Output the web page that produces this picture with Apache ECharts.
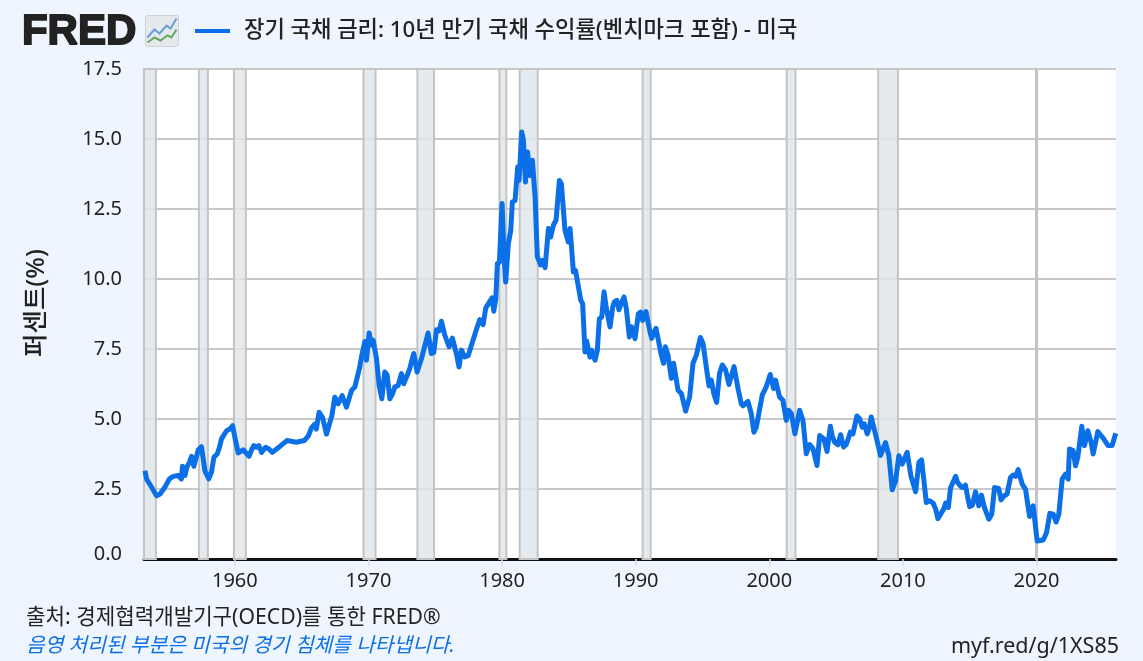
<!DOCTYPE html>
<html><head><meta charset="utf-8">
<style>html,body{margin:0;padding:0;background:#eef5fe}#c{width:1143px;height:661px}</style>
<script src="https://cdn.jsdelivr.net/npm/echarts@6/dist/echarts.min.js"></script>
</head><body><div id="c"></div>
<script>
const seriesName = '장기 국채 금리: 10년 만기 국채 수익률(벤치마크 포함) - 미국';
const xTicks = [1960, 1970, 1980, 1990, 2000, 2010, 2020];
const recessionStart = [1953.2, 1957.31, 1959.93, 1969.63, 1973.66, 1979.8, 1981.32, 1990.52, 2001.3, 2008.15, 2019.96];
const recessionEnd = [1954.09, 1957.98, 1960.82, 1970.53, 1974.91, 1980.32, 1982.67, 1991.12, 2001.96, 2009.63, 2020.04];
const years = [
1953.27,1953.4,1953.5,1953.77,1954.14,1954.4,1954.76,1955.39,1955.76,1956.0,1956.08,1956.26,1956.43,1956.76,1956.93,1957.26,1957.5,1957.76,1958.05,1958.25,1958.43,1958.68,1959.0,1959.38,1959.63,1959.83,1960.0,1960.25,1960.62,1961.07,1961.42,1961.62,1961.8,1962.0,1962.3,1962.8,1963.37,1963.9,1964.6,1965.2,1965.5,1965.75,1966.0,1966.1,1966.3,1966.56,1966.86,1967.0,1967.26,1967.48,1967.73,1968.03,1968.35,1968.73,1968.98,1969.35,1969.48,1969.73,1969.85,1970.05,1970.22,1970.35,1970.6,1970.8,1971.0,1971.22,1971.4,1971.6,1971.97,1972.22,1972.47,1972.64,1973.09,1973.39,1973.64,1973.97,1974.46,1974.71,1974.89,1975.09,1975.29,1975.46,1975.71,1976.03,1976.28,1976.58,1976.78,1976.96,1977.2,1977.46,1977.95,1978.33,1978.58,1978.78,1979.25,1979.38,1979.53,1979.65,1979.8,1980.0,1980.15,1980.27,1980.47,1980.65,1980.77,1980.97,1981.17,1981.27,1981.47,1981.6,1981.75,1981.9,1982.1,1982.27,1982.47,1982.64,1982.89,1983.04,1983.22,1983.47,1983.64,1983.84,1984.04,1984.29,1984.44,1984.71,1984.96,1985.09,1985.34,1985.64,1985.89,1986.03,1986.21,1986.33,1986.58,1986.71,1986.96,1987.13,1987.28,1987.46,1987.63,1987.83,1988.08,1988.28,1988.58,1988.75,1989.13,1989.53,1989.7,1989.95,1990.2,1990.37,1990.52,1990.77,1991.07,1991.2,1991.52,1991.92,1992.09,1992.22,1992.42,1992.67,1992.84,1993.17,1993.42,1993.74,1994.04,1994.29,1994.54,1994.84,1995.04,1995.49,1995.66,1996.06,1996.28,1996.48,1996.73,1996.98,1997.36,1997.66,1998.03,1998.4,1998.65,1998.85,1999.03,1999.47,1999.77,2000.07,2000.32,2000.47,2000.77,2001.02,2001.27,2001.45,2001.65,2001.92,2002.27,2002.52,2002.77,2003.02,2003.27,2003.57,2003.77,2004.09,2004.32,2004.57,2004.89,2005.14,2005.34,2005.56,2005.76,2006.06,2006.26,2006.56,2006.76,2006.96,2007.33,2007.63,2007.88,2008.33,2008.7,2008.95,2009.2,2009.45,2009.7,2009.95,2010.32,2010.95,2011.2,2011.4,2011.75,2012.27,2012.62,2013.07,2013.4,2013.57,2013.95,2014.3,2014.68,2015.0,2015.43,2015.68,2015.88,2016.43,2016.86,2017.17,2017.35,2017.8,2018.05,2018.43,2018.63,2018.93,2019.18,2019.48,2019.75,2019.88,2020.05,2020.5,2020.75,2021.0,2021.25,2021.47,2021.67,2021.92,2022.17,2022.37,2022.47,2022.74,2022.92,2023.09,2023.39,2023.59,2023.84,2024.09,2024.24,2024.59,2025.0,2025.36,2025.66,2025.93];
const rates = [
3.15,2.85,2.8,2.56,2.26,2.32,2.56,2.95,2.98,2.86,3.31,2.98,3.31,3.67,3.31,3.9,4.01,3.15,2.86,3.1,3.63,3.75,4.29,4.58,4.64,4.76,4.35,3.79,3.9,3.67,4.05,3.99,4.05,3.81,3.99,3.81,4.02,4.23,4.17,4.23,4.4,4.7,4.82,4.64,5.24,5.06,4.46,4.52,5.12,5.78,5.54,5.84,5.42,6.02,6.14,6.86,7.22,7.77,7.1,8.07,7.64,7.82,7.16,6.2,5.72,6.68,6.56,5.72,6.14,6.2,6.62,6.26,6.8,7.34,6.68,7.16,8.07,7.34,7.38,8.19,8.15,8.49,8.0,7.58,7.89,7.34,6.86,7.46,7.22,7.26,8.0,8.55,8.37,8.97,9.33,8.85,9.3,10.55,10.6,12.7,10.79,9.89,11.26,11.74,12.75,12.8,14.0,13.52,15.25,14.95,13.46,14.54,13.7,14.24,12.93,10.8,10.5,10.67,10.4,11.8,11.5,11.92,12.1,13.52,13.4,11.74,11.32,11.8,10.25,10.37,9.24,9.12,7.39,7.79,7.21,7.45,7.1,7.45,8.58,8.64,9.54,8.88,8.29,9.0,9.24,8.9,9.36,7.93,8.29,7.87,8.76,8.82,8.52,8.84,8.12,7.88,8.24,7.28,6.99,7.58,7.28,6.45,6.99,6.03,5.91,5.28,5.79,6.99,7.28,7.91,7.7,6.18,6.39,5.59,6.63,6.93,6.75,6.23,6.87,6.09,5.47,5.63,5.19,4.53,4.71,5.85,6.15,6.59,6.09,6.39,5.79,5.67,4.95,5.31,5.19,4.47,5.31,4.95,3.76,4.09,3.94,3.34,4.41,4.29,3.84,4.74,4.17,4.08,4.44,4.0,4.09,4.53,4.47,5.11,5.01,4.71,4.47,5.07,4.59,3.7,4.16,3.69,2.47,2.79,3.69,3.39,3.81,2.4,3.45,3.54,2.02,1.99,1.44,1.8,1.84,2.55,2.95,2.61,2.64,1.87,2.4,1.9,2.28,1.42,2.55,2.52,2.11,2.32,2.91,2.95,3.19,2.67,2.49,1.52,1.9,1.9,0.64,0.68,0.94,1.63,1.6,1.32,1.6,2.85,3.03,2.85,3.93,3.87,3.33,3.63,4.74,4.05,4.58,4.16,3.75,4.55,4.31,4.05,4.05,4.49];
const extraYears = [1955.1,1956.6,1958.85,1961.25,1962.55,1971.8,1972.9,1973.25,1977.75,1978.15,1985.5,1988.4,1988.9,1989.3,1995.3,1995.85,1997.9,2004.7,2005.95,2007.1,2007.5,2010.6,2011.55,2012.0,2012.45,2012.82,2013.2,2014.1,2014.45,2014.85,2015.2,2016.1,2016.65,2017.0,2017.55,2018.25];
const extraRates = [2.86,3.45,3.99,3.9,3.93,5.9,6.56,7.1,7.7,8.3,10.3,9.18,9.12,8.94,6.8,5.9,5.55,4.41,4.35,4.83,4.71,2.97,2.91,2.08,1.78,1.6,2.0,2.73,2.55,2.2,1.92,1.84,1.6,2.58,2.25,3.0];

const points = years.map((y,i)=>[y,rates[i]]).concat(extraYears.map((y,i)=>[y,extraRates[i]])).sort((a,b)=>a[0]-b[0]);
const font = '"Noto Sans","Noto Sans CJK KR",sans-serif';
const chart = echarts.init(document.getElementById('c'), null, {renderer:'canvas'});
chart.setOption({
  animation:false,
  backgroundColor:'#eef5fe',
  grid:{left:144,right:27,top:69,bottom:102,show:true,backgroundColor:'#fff',borderWidth:0},
  legend:{show:true,left:190,top:15,icon:'rect',itemWidth:35,itemHeight:4,itemGap:13,
    textStyle:{fontFamily:font,fontSize:22.2,color:'#222',fontWeight:500,padding:[0,0,0,9]},data:[seriesName]},
  xAxis:{type:'value',min:1953.2,max:2025.95,
    splitLine:{show:false},
    axisLine:{show:true,onZero:false,lineStyle:{color:'#111',width:3}},
    axisTick:{show:true,customValues:xTicks,length:7,lineStyle:{color:'#cfe0f7',width:1.5}},
    axisLabel:{customValues:xTicks,formatter:v=>String(v),fontFamily:font,fontSize:20,color:'#222',margin:12}},
  yAxis:{type:'value',min:0,max:17.5,interval:2.5,
    name:'퍼센트(%)',nameLocation:'middle',nameGap:95,nameRotate:90,
    nameTextStyle:{fontFamily:font,fontSize:25.5,color:'#222',fontWeight:500,padding:[0,0,0,22]},
    axisLine:{show:false},axisTick:{show:false},
    splitLine:{show:true,lineStyle:{color:'#c9c9c9',width:2}},
    axisLabel:{formatter:v=>v===0?'{z|0.0}':v.toFixed(1),fontFamily:font,fontSize:20,color:'#222',margin:22,
      rich:{z:{fontFamily:font,fontSize:20,color:'#222',padding:[0,0,10,0]}}}},
  series:[{
    name:seriesName,type:'line',showSymbol:false,symbol:'none',
    lineStyle:{color:'#0b6fe8',width:5,join:'round'},itemStyle:{color:'#0b6fe8'},
    data:points,
    markArea:{silent:true,itemStyle:{color:'rgba(225,230,236,0.85)',borderColor:'#c4c4c4',borderWidth:2},
      data:recessionStart.map((s,i)=>[{xAxis:s},{xAxis:recessionEnd[i]}])}
  }],
  graphic:[
    {type:'text',left:21,top:11,style:{text:'FRED',fontFamily:'"Liberation Sans",sans-serif',fontWeight:900,fontSize:42,fill:'#222',stroke:'#222',lineWidth:1.8}},
    {type:'group',left:145,top:15,children:[
      {type:'rect',shape:{x:0,y:0,width:33,height:31,r:2},style:{fill:'#e6e9ec',stroke:'#d0d3d6',lineWidth:1}},
      {type:'polyline',shape:{points:[[2,22],[9,14],[14,18],[21,10],[25,13],[31,3]]},style:{stroke:'#6a9fd4',fill:null,lineWidth:2}},
      {type:'polyline',shape:{points:[[2,27],[9,22],[15,25],[22,20],[26,22],[31,14]]},style:{stroke:'#62a860',fill:null,lineWidth:2}}
    ]},
    {type:'text',left:26,top:607,style:{text:'출처: 경제협력개발기구(OECD)를 통한 FRED®',fontFamily:font,fontSize:21.2,fill:'#222'}},
    {type:'text',left:26,top:636,style:{text:'음영 처리된 부분은 미국의 경기 침체를 나타냅니다.',fontFamily:font,fontSize:20.3,fontStyle:'italic',fill:'#0b6fe8'}},
    {type:'text',right:24,top:636,style:{text:'myf.red/g/1XS85',fontFamily:font,fontSize:21.5,fill:'#222'}}
  ]
});
</script></body></html>
